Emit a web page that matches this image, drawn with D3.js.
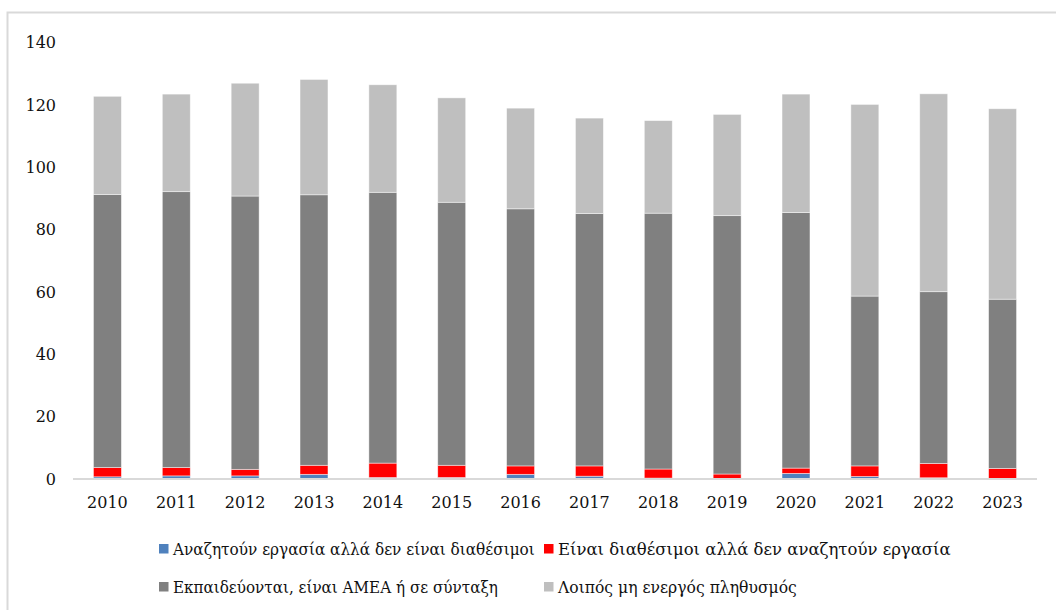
<!DOCTYPE html>
<html>
<head>
<meta charset="utf-8">
<script src="https://cdn.jsdelivr.net/npm/d3@7"></script>
<style>
  html, body { margin: 0; padding: 0; background: #fff; }
  svg { display: block; }
</style>
</head>
<body>
<div id="chart"></div>
<script>
/* Stacked bars: inactive population breakdown, 2010-2023 */

var years = ['2010', '2011', '2012', '2013', '2014', '2015', '2016',
             '2017', '2018', '2019', '2020', '2021', '2022', '2023'];

var seeking = [0.7, 1.0, 1.0, 1.5, 0.5, 0.5, 1.5, 0.9, 0.3, 0.2, 1.8, 0.8, 0.4, 0.2];
var available = [3.0, 2.7, 2.1, 2.9, 4.6, 3.9, 2.7, 3.3, 2.9, 1.4, 1.7, 3.4, 4.6, 3.2];
var education = [87.6, 88.5, 87.7, 86.8, 86.9, 84.4, 82.5, 81.0, 82.1, 82.9, 82.0, 54.5, 55.1, 54.3];
var otherInactive = [31.5, 31.3, 36.2, 37.0, 34.5, 33.5, 32.3, 30.6, 29.7, 32.5, 38.0, 61.5, 63.5, 61.1];

var seriesNames = [
  'Αναζητούν εργασία αλλά δεν είναι διαθέσιμοι',
  'Είναι διαθέσιμοι αλλά δεν αναζητούν εργασία',
  'Εκπαιδεύονται, είναι ΑΜΕΑ ή σε σύνταξη',
  'Λοιπός μη ενεργός πληθυσμός'
];
var seriesValues = [seeking, available, education, otherInactive];
var seriesColors = ['#4f81bd', '#ff0000', '#808080', '#bfbfbf'];

var yTicks = [0, 20, 40, 60, 80, 100, 120, 140];

var W = 1056, H = 610;
var plotLeft = 73, plotRight = 1037, plotTop = 42.7, plotBottom = 479;
var serifFont = "'DejaVu Serif', 'Liberation Serif', serif";

var svg = d3.select('#chart').append('svg')
  .attr('width', W)
  .attr('height', H);

/* outer chart frame */
svg.append('rect')
  .attr('x', 7.5).attr('y', 12.5)
  .attr('width', W + 10).attr('height', H + 10)
  .attr('fill', '#fff')
  .attr('stroke', '#d9d9d9')
  .attr('stroke-width', 2);

var x = d3.scaleBand()
  .domain(years)
  .range([plotLeft, plotRight])
  .paddingInner(0.594)
  .paddingOuter(0.297);

var y = d3.scaleLinear()
  .domain([0, 140])
  .range([plotBottom, plotTop]);

/* build stack rows */
var keys = ['s0', 's1', 's2', 's3'];
var rows = years.map(function(yr, i) {
  var r = { year: yr };
  keys.forEach(function(k, j) { r[k] = seriesValues[j][i]; });
  return r;
});
var stacked = d3.stack().keys(keys)(rows);

var gBars = svg.append('g');
gBars.selectAll('g')
  .data(stacked)
  .join('g')
  .attr('fill', function(d, i) { return seriesColors[i]; })
  .selectAll('rect')
  .data(function(d) { return d; })
  .join('rect')
  .attr('x', function(d) { return x(d.data.year); })
  .attr('width', x.bandwidth())
  .attr('y', function(d) { return y(d[1]); })
  .attr('height', function(d) { return y(d[0]) - y(d[1]); })
  .attr('stroke', '#ffffff')
  .attr('stroke-opacity', 0.6)
  .attr('stroke-width', 0.75);

/* x axis: baseline line + year labels */
var xAxis = svg.append('g')
  .attr('transform', 'translate(0,' + plotBottom + ')')
  .call(d3.axisBottom(x).tickSize(0).tickPadding(0));
xAxis.select('.domain')
  .attr('d', 'M' + plotLeft + ',0H' + plotRight)
  .attr('stroke', '#d9d9d9')
  .attr('stroke-width', 2);
xAxis.selectAll('text')
  .attr('y', 29)
  .attr('dy', 0)
  .attr('fill', '#111')
  .style('font-family', serifFont)
  .style('font-size', '16px');

/* y axis: labels only */
var yAxis = svg.append('g')
  .attr('transform', 'translate(56,0)')
  .call(d3.axisLeft(y).tickValues(yTicks).tickSize(0).tickPadding(0));
yAxis.select('.domain').remove();
yAxis.selectAll('text')
  .attr('fill', '#111')
  .style('font-family', serifFont)
  .style('font-size', '16px');

/* legend, two rows of two; each label fitted to the width it has in the original */
var legendPos = [[159, 544], [544, 544], [159, 582], [544, 582]];
var legendWidths = [362, 393, 325, 239];
var legend = svg.append('g');
var item = legend.selectAll('g')
  .data(seriesNames)
  .join('g')
  .attr('transform', function(d, i) {
    return 'translate(' + legendPos[i][0] + ',' + legendPos[i][1] + ')';
  });
item.append('rect')
  .attr('x', 0).attr('y', 0)
  .attr('width', 9.5).attr('height', 9.5)
  .attr('fill', function(d, i) { return seriesColors[i]; });
item.append('text')
  .attr('fill', '#111')
  .style('font-family', serifFont)
  .style('font-size', '17.5px')
  .text(function(d) { return d; })
  .attr('transform', function(d, i) {
    var natural = this.getComputedTextLength();
    return 'translate(14,10.5) scale(' + (legendWidths[i] / natural) + ',1)';
  });
</script>
</body>
</html>
